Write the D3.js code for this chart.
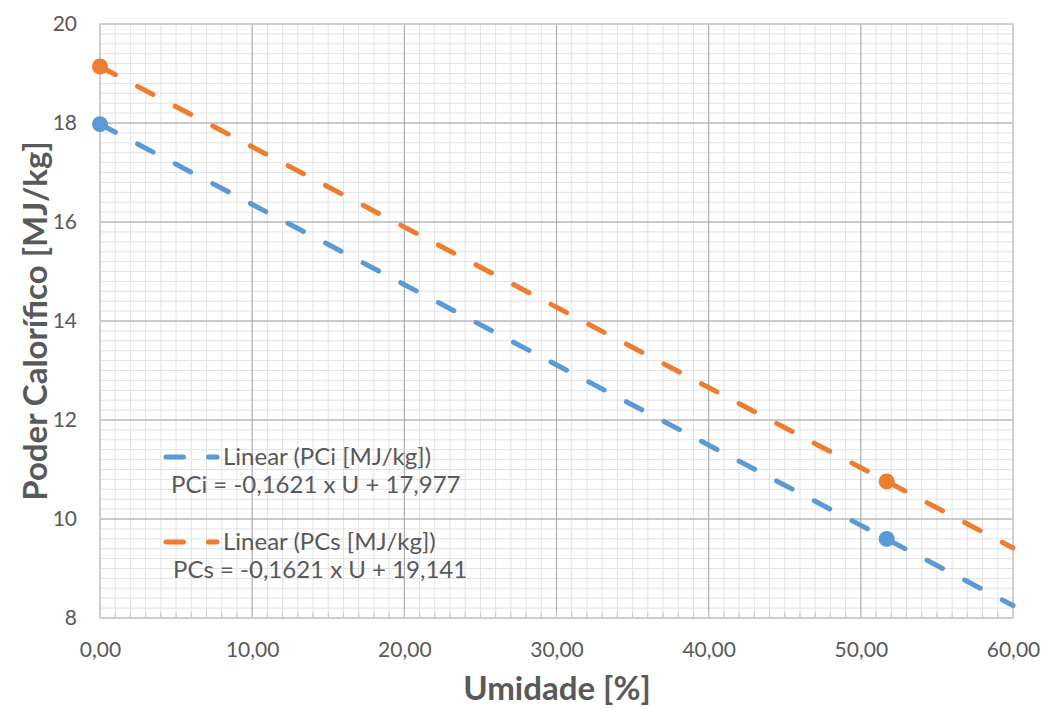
<!DOCTYPE html>
<html>
<head>
<meta charset="utf-8">
<script src="https://cdn.jsdelivr.net/npm/d3@7"></script>
<style>
  body { margin: 0; background: #fff; }
  text { font-family: Lato, "Open Sans", sans-serif; fill: #595959; }
</style>
</head>
<body>
<div id="chart"></div>
<script>
// data
const umidade = [0, 51.7];
const pci = [17.977, 9.597];
const pcs = [19.141, 10.760];
// trendline ends (x = 0 and x = 60)
const trendX = [0, 60];
const trendPci = [17.977, 8.251];
const trendPcs = [19.141, 9.415];
const xTicks = [0, 10, 20, 30, 40, 50, 60];
const yTicks = [8, 10, 12, 14, 16, 18, 20];
const legendLabels = ["Linear (PCi [MJ/kg])", "Linear (PCs [MJ/kg])"];
const equations = ["PCi = -0,1621 x U + 17,977", "PCs = -0,1621 x U + 19,141"];

const width = 1042, height = 709;
const margin = {top: 24, right: 29, bottom: 91, left: 100};
const blue = "#5B9BD5", orange = "#ED7D31";
const dash = "17.5,25";

const svg = d3.select("#chart").append("svg")
    .attr("width", width)
    .attr("height", height);

const x = d3.scaleLinear().domain([0, 60]).range([margin.left, width - margin.right]);
const y = d3.scaleLinear().domain([8, 20]).range([height - margin.bottom, margin.top]);

// minor grid
svg.append("g").selectAll("line")
    .data(d3.range(0, 60.001, 1))
    .join("line")
    .attr("x1", d => x(d)).attr("x2", d => x(d))
    .attr("y1", y(8)).attr("y2", y(20))
    .attr("stroke", "#e3e3e3").attr("stroke-width", 1);
svg.append("g").selectAll("line")
    .data(d3.range(8, 20.001, 0.2))
    .join("line")
    .attr("y1", d => y(d)).attr("y2", d => y(d))
    .attr("x1", x(0)).attr("x2", x(60))
    .attr("stroke", "#e3e3e3").attr("stroke-width", 1);

// major grid
svg.append("g").selectAll("line")
    .data(xTicks)
    .join("line")
    .attr("x1", d => x(d)).attr("x2", d => x(d))
    .attr("y1", y(8)).attr("y2", y(20))
    .attr("stroke", "#a6a6a6").attr("stroke-width", 1);
svg.append("g").selectAll("line")
    .data(yTicks)
    .join("line")
    .attr("y1", d => y(d)).attr("y2", d => y(d))
    .attr("x1", x(0)).attr("x2", x(60))
    .attr("stroke", "#a6a6a6").attr("stroke-width", 1);

// minor ticks on bottom axis
svg.append("g").selectAll("line")
    .data(d3.range(0, 60.001, 1))
    .join("line")
    .attr("x1", d => x(d)).attr("x2", d => x(d))
    .attr("y1", y(8)).attr("y2", y(8) - 6)
    .attr("stroke", "#c8c8c8").attr("stroke-width", 1);

// plot border
svg.append("rect")
    .attr("x", x(0)).attr("y", y(20))
    .attr("width", x(60) - x(0)).attr("height", y(8) - y(20))
    .attr("fill", "none").attr("stroke", "#d0d0d0").attr("stroke-width", 1.5);

// axes
const xAxis = svg.append("g")
    .attr("transform", "translate(0," + y(8) + ")")
    .call(d3.axisBottom(x).tickValues(xTicks).tickSize(0).tickPadding(24)
        .tickFormat(d => d3.format(".2f")(d).replace(".", ",")));
xAxis.select(".domain").remove();
xAxis.selectAll("text").style("font-size", "21px").attr("fill", "#595959");

const yAxis = svg.append("g")
    .attr("transform", "translate(" + x(0) + ",0)")
    .call(d3.axisLeft(y).tickValues(yTicks).tickSize(0).tickPadding(23));
yAxis.select(".domain").remove();
yAxis.selectAll("text").style("font-size", "21px").attr("fill", "#595959");

// titles
svg.append("text")
    .attr("x", 557)
    .attr("y", 700)
    .attr("text-anchor", "middle")
    .style("font-size", "33px").style("font-weight", "bold")
    .text("Umidade [%]");
svg.append("text")
    .attr("transform", "translate(47," + ((y(8) + y(20)) / 2) + ") rotate(-90)")
    .attr("text-anchor", "middle")
    .style("font-size", "33px").style("font-weight", "bold")
    .text("Poder Calorífico [MJ/kg]");

// trendlines
const line = d3.line().x(d => x(d[0])).y(d => y(d[1]));
const series = [
    {trend: trendPci, pts: pci, color: blue},
    {trend: trendPcs, pts: pcs, color: orange}
];
series.forEach(s => {
    svg.append("path")
        .datum(trendX.map((v, i) => [v, s.trend[i]]))
        .attr("d", line)
        .attr("fill", "none")
        .attr("stroke", s.color)
        .attr("stroke-width", 5)
        .attr("stroke-linecap", "round")
        .attr("stroke-dasharray", dash);
    svg.append("g").selectAll("circle")
        .data(umidade.map((v, i) => [v, s.pts[i]]))
        .join("circle")
        .attr("cx", d => x(d[0]))
        .attr("cy", d => y(d[1]))
        .attr("r", 8)
        .attr("fill", s.color);
});

// legend
const legend = svg.append("g");
[blue, orange].forEach((c, i) => {
    const ly = i == 0 ? 457 : 542;
    legend.append("line")
        .attr("x1", 166).attr("x2", 217)
        .attr("y1", ly).attr("y2", ly)
        .attr("stroke", c).attr("stroke-width", 5)
        .attr("stroke-linecap", "round")
        .attr("stroke-dasharray", dash);
    legend.append("text")
        .attr("x", 223).attr("y", ly + 8)
        .style("font-size", "24px")
        .text(legendLabels[i]);
    legend.append("text")
        .attr("x", 171 + i * 2).attr("y", ly + 36)
        .style("font-size", "24px")
        .text(equations[i]);
});
</script>
</body>
</html>
